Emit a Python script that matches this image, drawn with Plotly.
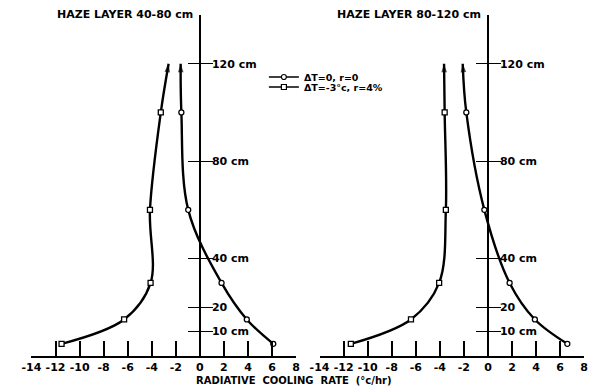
import plotly.graph_objects as go

# ---- data ----
heights = [5, 15, 30, 60, 100, 120]          # cm (last = arrow tip)
left_sq = [-11.5, -6.3, -4.1, -4.15, -3.25, -2.6]
left_ci = [6.1, 3.9, 1.8, -0.97, -1.54, -1.6]
right_sq = [-11.4, -6.4, -4.06, -3.5, -3.6, -3.65]
right_ci = [6.6, 3.9, 1.8, -0.3, -1.8, -2.1]

x_tickvals = list(range(-14, 9, 2))
x_ticktext = [str(v) for v in x_tickvals]
y_tickvals = [10, 20, 40, 80, 120]
y_ticktext = ["10 cm", "20", "40 cm", "80 cm", "120 cm"]
panel_titles = ["HAZE LAYER 40-80 cm", "HAZE LAYER 80-120 cm"]
series_names = ["ΔT=0, r=0", "ΔT=-3°c, r=4%"]
x_title = "RADIATIVE  COOLING  RATE  (°c/hr)"

X_RANGE = [-14, 8]
Y_RANGE = [0, 140]
W, H = 596, 390
dom_left = [22 / W, 293 / W]
dom_right = [317 / W, 588 / W]
dom_y = [1 - 356 / H, 1 - 15 / H]

FONT = "DejaVu Sans"
BLACK = "black"

def zero_pos(dom):
    return dom[0] + (0 - X_RANGE[0]) / (X_RANGE[1] - X_RANGE[0]) * (dom[1] - dom[0])

fig = go.Figure()

panels = [
    ("x", "y", left_ci, left_sq),
    ("x2", "y2", right_ci, right_sq),
]

for i, (xa, ya, ci, sq) in enumerate(panels):
    for vals, idx in ((ci, 0), (sq, 1)):
        fig.add_trace(go.Scatter(
            x=vals, y=heights, xaxis=xa, yaxis=ya, mode="lines",
            line=dict(color=BLACK, width=2.4, shape="spline"),
            showlegend=False, hoverinfo="skip"))
        fig.add_trace(go.Scatter(
            x=vals[:-1], y=heights[:-1], xaxis=xa, yaxis=ya, mode="markers",
            marker=dict(symbol="circle" if idx == 0 else "square", size=5,
                        color="white", line=dict(color=BLACK, width=1.3)),
            showlegend=False, hoverinfo="skip"))
        fig.add_trace(go.Scatter(
            x=vals[-2:], y=heights[-2:], xaxis=xa, yaxis=ya, mode="markers",
            marker=dict(symbol="arrow", angleref="previous", size=[0, 9],
                        color=BLACK, line=dict(width=0)),
            showlegend=False, hoverinfo="skip"))

for idx, (name, sym, lg) in enumerate(((series_names[0], "circle", "legend"),
                                        (series_names[1], "square", "legend2"))):
    fig.add_trace(go.Scatter(
        x=[None], y=[None], mode="lines+markers", name=name, legend=lg,
        line=dict(color=BLACK, width=1.5),
        marker=dict(symbol=sym, size=5, color="white", line=dict(color=BLACK, width=1.2)),
        hoverinfo="skip"))

axis_font = dict(family=FONT, size=11, color=BLACK, weight="bold")

for xa_name, dom in (("xaxis", dom_left), ("xaxis2", dom_right)):
    fig.layout[xa_name] = dict(
        domain=dom, range=X_RANGE, anchor="y" if xa_name == "xaxis" else "y2",
        showgrid=False, zeroline=False, showline=True, linecolor=BLACK, linewidth=1.6,
        ticks="inside", ticklen=15, tickwidth=1.6, tickcolor=BLACK,
        tickvals=x_tickvals, ticktext=x_ticktext, tickfont=axis_font,
        fixedrange=True)

for ya_name, xa, dom in (("yaxis", "x", dom_left), ("yaxis2", "x2", dom_right)):
    fig.layout[ya_name] = dict(
        domain=dom_y, range=Y_RANGE, anchor="free", position=zero_pos(dom),
        side="right", showgrid=False, zeroline=False, showline=True,
        linecolor=BLACK, linewidth=1.6,
        ticks="outside", ticklen=12, tickwidth=1.3, tickcolor=BLACK,
        tickvals=y_tickvals, ticktext=y_ticktext, tickfont=axis_font,
        ticklabelstandoff=-3, fixedrange=True)

for ya_name, base, dom in (("yaxis3", "y", dom_left), ("yaxis4", "y2", dom_right)):
    fig.layout[ya_name] = dict(
        domain=dom_y, range=Y_RANGE, anchor="free", position=zero_pos(dom),
        overlaying=base, side="left", showgrid=False, zeroline=False,
        showline=False, ticks="outside", ticklen=12, tickwidth=1.3,
        tickcolor=BLACK, tickvals=y_tickvals, showticklabels=False,
        fixedrange=True)

fig.add_trace(go.Scatter(x=[None], y=[None], xaxis="x", yaxis="y3", showlegend=False))
fig.add_trace(go.Scatter(x=[None], y=[None], xaxis="x2", yaxis="y4", showlegend=False))

title_font = dict(family=FONT, size=11, color=BLACK, weight="bold")
for xr, yr, t in (("x", "y", panel_titles[0]), ("x2", "y2", panel_titles[1])):
    fig.add_annotation(x=-0.4, y=Y_RANGE[1], xref=xr, yref=yr, text=t,
                       showarrow=False, xanchor="right", yanchor="middle",
                       font=title_font)

fig.add_annotation(x=291 / W, y=1 - 380 / H, xref="paper", yref="paper",
                   text=x_title, showarrow=False, xanchor="center",
                   yanchor="middle", font=dict(family=FONT, size=10, color=BLACK, weight="bold"))

leg_font = dict(family=FONT, size=9.5, color=BLACK, weight="bold")
fig.update_layout(
    width=W, height=H, margin=dict(l=0, r=0, t=0, b=0),
    paper_bgcolor="white", plot_bgcolor="white",
    legend=dict(x=260 / W, y=1 - 77 / H, xanchor="left", yanchor="middle",
                bgcolor="rgba(0,0,0,0)", font=leg_font, itemwidth=30,
                borderwidth=0, tracegroupgap=0),
    legend2=dict(x=260 / W, y=1 - 87 / H, xanchor="left", yanchor="middle",
                 bgcolor="rgba(0,0,0,0)", font=leg_font, itemwidth=30,
                 borderwidth=0, tracegroupgap=0),
)

fig.write_html("out.html")
